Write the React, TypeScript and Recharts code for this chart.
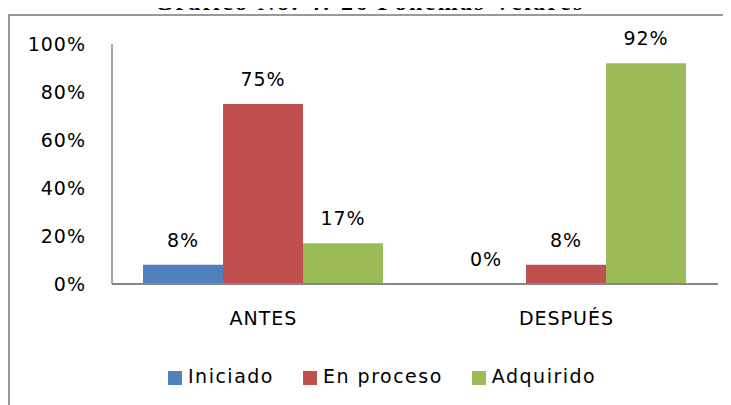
import { BarChart, Bar, XAxis, YAxis, Legend, LabelList } from 'recharts';

const categories = ['ANTES', 'DESPUÉS'];
const iniciado = [8, 0];
const enProceso = [75, 8];
const adquirido = [17, 92];
const yTicks = [0, 20, 40, 60, 80, 100];
const seriesOrder = ['Iniciado', 'En proceso', 'Adquirido'];

const data = categories.map((name, i) => ({
    name,
    Iniciado: iniciado[i],
    'En proceso': enProceso[i],
    Adquirido: adquirido[i],
}));

const FONT = '"DejaVu Sans", sans-serif';
const textStyle = { fontFamily: FONT, fontSize: 19, fill: '#000', letterSpacing: 1 };

export default function App() {
    return (
        <div style={{ position: 'relative', width: 723, height: 397 }}>
            <div
                style={{
                    position: 'absolute',
                    top: 6,
                    left: 0,
                    width: 723,
                    height: 391,
                    borderLeft: '2px solid #9a9a9a',
                    borderTop: '2px solid #9a9a9a',
                    background: '#fff',
                }}
            >
                <BarChart
                    width={721}
                    height={389}
                    data={data}
                    margin={{ top: 28, right: 13, left: 0, bottom: 0 }}
                    barCategoryGap={31}
                    barGap={0}
                >
                    <YAxis
                        domain={[0, 100]}
                        ticks={yTicks}
                        width={102}
                        tickSize={0}
                        tickMargin={26}
                        tickFormatter={(v) => `${v}%`}
                        axisLine={{ stroke: '#868686', strokeWidth: 1.5 }}
                        tick={textStyle}
                    />
                    <XAxis
                        dataKey="name"
                        height={81}
                        tickSize={0}
                        tickMargin={28}
                        axisLine={{ stroke: '#868686', strokeWidth: 2 }}
                        tick={textStyle}
                    />
                    <Legend
                        verticalAlign="bottom"
                        align="left"
                        iconType="square"
                        iconSize={14}
                        itemSorter={(item) => seriesOrder.indexOf(String(item.value))}
                        wrapperStyle={{ left: 158, height: 40, fontFamily: FONT, fontSize: 19, letterSpacing: 1.5 }}
                        formatter={(value) => (
                            <span style={{ color: '#000', marginLeft: 2, marginRight: 19 }}>{value}</span>
                        )}
                    />
                    <Bar dataKey="Iniciado" fill="#4F81BD" minPointSize={0.01} isAnimationActive={false}>
                        <LabelList dataKey="Iniciado" position="top" offset={18} formatter={(v) => `${v}%`} style={textStyle} />
                    </Bar>
                    <Bar dataKey="En proceso" fill="#C0504D" isAnimationActive={false}>
                        <LabelList dataKey="En proceso" position="top" offset={18} formatter={(v) => `${v}%`} style={textStyle} />
                    </Bar>
                    <Bar dataKey="Adquirido" fill="#9BBB59" isAnimationActive={false}>
                        <LabelList dataKey="Adquirido" position="top" offset={18} formatter={(v) => `${v}%`} style={textStyle} />
                    </Bar>
                </BarChart>
            </div>

            {/* título cortado arriba */}
            <div
                style={{
                    position: 'absolute',
                    top: -18,
                    left: 0,
                    width: 723,
                    textAlign: 'center',
                    fontFamily: '"Liberation Serif", serif',
                    fontWeight: 'bold',
                    fontSize: 24,
                    lineHeight: '24px',
                    letterSpacing: 2.3,
                    color: '#000',
                }}
            >
                Gráfico No. 4: 26 Fonemas Velares
            </div>
        </div>
    );
}
